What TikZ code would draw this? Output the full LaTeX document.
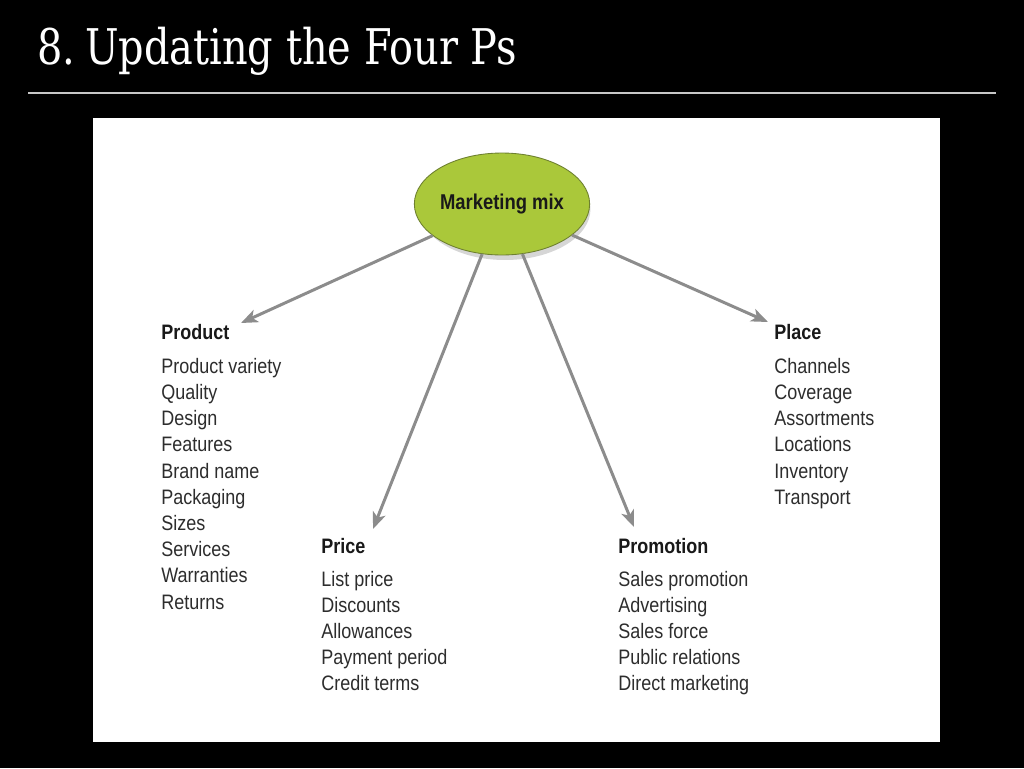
\documentclass[tikz,border=0pt]{standalone}
\usepackage{fontspec}
\setmainfont{Liberation Sans}[FakeStretch=0.86]
\newfontfamily\titlefont{DejaVu Serif}[FakeStretch=0.81]
\usepackage{xcolor}
\usetikzlibrary{shapes.geometric,arrows.meta}

\definecolor{mixgreen}{RGB}{170,200,58}
\definecolor{mixedge}{RGB}{110,128,48}
\definecolor{arrowgray}{RGB}{140,140,140}
\definecolor{headtext}{RGB}{25,25,25}
\definecolor{itemtext}{RGB}{45,45,45}

\begin{document}
\begin{tikzpicture}[x=0.02cm,y=-0.02cm,
  mixnode/.style={ellipse,minimum width=3.42cm,minimum height=2.04cm,inner sep=0pt},
  plist/.style={anchor=north west,inner sep=0pt,align=left,text=itemtext,
    font=\fontsize{11.9}{14.9}\selectfont},
  mixarrow/.style={draw=arrowgray,line width=1.7pt,
    -{Stealth[length=9.5pt,width=7.5pt,inset=2.5pt]}}]

  % background and frame
  \fill[black] (0,0) rectangle (1024,768);
  \useasboundingbox (0,0) rectangle (1024,768);
  \node[anchor=base west,inner sep=0pt,text=white,font=\titlefont\fontsize{28}{30}\selectfont]
    (title) at (37,64) {8.\hspace{-4pt} Updating the Four Ps};
  \draw[color=black!22,line width=0.9pt] (28,93) -- (996,93);
  \fill[white] (93,118) rectangle (940,742);

  % centre
  \node[mixnode,fill=black!16] (mmshadow) at (505,209) {};
  \node[mixnode,fill=mixgreen,draw=mixedge,line width=0.5pt,
    font=\bfseries\fontsize{12.2}{14}\selectfont,text=headtext] (mm) at (502,204) {Marketing mix};

  % the four Ps
  \node[plist] (product) at (161,324) {\textbf{\color{headtext}Product}\\[4.4pt]
    Product variety\\ Quality\\ Design\\ Features\\ Brand name\\
    Packaging\\ Sizes\\ Services\\ Warranties\\ Returns};
  \node[plist] (price) at (321,538) {\textbf{\color{headtext}Price}\\[3.6pt]
    List price\\ Discounts\\ Allowances\\ Payment period\\ Credit terms};
  \node[plist] (promotion) at (618,538) {\textbf{\color{headtext}Promotion}\\[3.6pt]
    Sales promotion\\ Advertising\\ Sales force\\ Public relations\\ Direct marketing};
  \node[plist] (place) at (774,324) {\textbf{\color{headtext}Place}\\[4.4pt]
    Channels\\ Coverage\\ Assortments\\ Locations\\ Inventory\\ Transport};

  \coordinate (toproduct) at (241,323);
  \coordinate (toprice) at (373,529);
  \coordinate (topromotion) at (634,527);
  \coordinate (toplace) at (768,322);

  \draw[mixarrow] (mm) -- (toproduct);
  \draw[mixarrow] (mm) -- (toprice);
  \draw[mixarrow] (mm) -- (topromotion);
  \draw[mixarrow] (mm) -- (toplace);
\end{tikzpicture}
\end{document}
